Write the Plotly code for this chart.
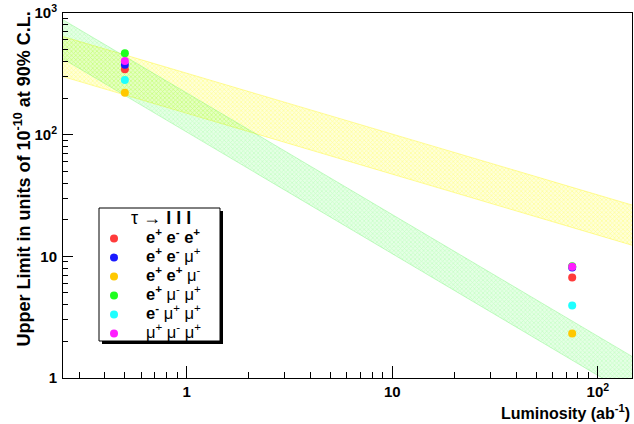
import plotly.graph_objects as go

# ---- data ----
channels = ["e+e-e+", "e+e-mu+", "e+e+mu-", "e+mu-mu+", "e-mu+mu+", "mu+mu-mu+"]
channel_labels = [
    "<b>e<sup>+</sup> e<sup>-</sup> e<sup>+</sup></b>",
    "<b>e<sup>+</sup> e<sup>-</sup></b> μ<sup>+</sup>",
    "<b>e<sup>+</sup> e<sup>+</sup></b> μ<sup>-</sup>",
    "<b>e<sup>+</sup></b> μ<sup>-</sup> μ<sup>+</sup>",
    "<b>e<sup>-</sup></b> μ<sup>+</sup> μ<sup>+</sup>",
    "μ<sup>+</sup> μ<sup>-</sup> μ<sup>+</sup>",
]
legend_title = "τ → <b>l l l</b>"
channel_colors = ["#ff3b3b", "#1a1aff", "#ffc800", "#1eff1e", "#1effff", "#ff1eff"]
lumi_points = [0.5, 75]
limit_now = [345, 376, 221, 467, 282, 403]        # at 0.5 ab^-1
limit_future = [6.7, 8.1, 2.32, 8.3, 3.94, 8.2]    # at 75 ab^-1

band_lumi = [0.25, 150]
yellow_upper = [640, 26.1]
yellow_lower = [300, 12.2]
green_upper = [880, 1.47]
green_lower = [420, 0.70]

x_tickvals = [1, 10, 100]
x_ticktext = ["1", "10", "10<sup>2</sup>"]
y_tickvals = [1, 10, 100, 1000]
y_ticktext = ["1", "10", "10<sup>2</sup>", "10<sup>3</sup>"]

FONT = "Liberation Sans, Arial, sans-serif"

# plot area in pixels (for placing the legend box / titles in paper units)
L, R, T, B = 63, 632, 13, 378
W, H = R - L, B - T
def px(x): return (x - L) / W
def py(y): return (B - y) / H

fig = go.Figure()

# bands (hatched, ROOT style)
fig.add_trace(go.Scatter(
    x=band_lumi + band_lumi[::-1], y=yellow_upper + yellow_lower[::-1],
    fill="toself", mode="lines", line=dict(color="rgba(255,245,40,0.55)", width=0.8),
    fillcolor="rgba(255,255,0,0.15)",
    fillpattern=dict(shape="x", size=3, solidity=0.4, fgcolor="rgba(255,255,0,0.6)",
                     bgcolor="rgba(255,255,0,0.15)"),
    showlegend=False, hoverinfo="skip"))
fig.add_trace(go.Scatter(
    x=band_lumi + band_lumi[::-1], y=green_upper + green_lower[::-1],
    fill="toself", mode="lines", line=dict(color="rgba(90,240,90,0.4)", width=0.8),
    fillcolor="rgba(0,255,0,0.1)",
    fillpattern=dict(shape="x", size=3, solidity=0.4, fgcolor="rgba(80,255,80,0.45)",
                     bgcolor="rgba(0,255,0,0.1)"),
    showlegend=False, hoverinfo="skip"))

for name, lab, col, a, b in zip(channels, channel_labels, channel_colors, limit_now, limit_future):
    fig.add_trace(go.Scatter(
        x=lumi_points, y=[a, b], mode="markers",
        name='<span style="font-size:16.5px">' + lab + '</span>',
        marker=dict(color=col, size=8, line=dict(width=0))))

# legend box with shadow
fig.add_shape(type="rect", xref="paper", yref="paper",
              x0=px(102), x1=px(223), y0=py(344), y1=py(211),
              fillcolor="black", line=dict(width=0), layer="above")
fig.add_shape(type="rect", xref="paper", yref="paper",
              x0=px(99), x1=px(220), y0=py(341), y1=py(208),
              fillcolor="white", line=dict(color="black", width=1), layer="above")
fig.add_annotation(
    text=legend_title, xref="paper", yref="paper", x=px(161), y=py(218),
    xanchor="center", yanchor="middle", showarrow=False,
    font=dict(family=FONT, size=18, color="black"))

fig.update_layout(
    width=634, height=424,
    margin=dict(l=L, r=634 - R, t=T, b=424 - B),
    paper_bgcolor="white", plot_bgcolor="white",
    font=dict(family=FONT, size=14, color="black"),
    legend=dict(
        x=px(82), y=py(224), xanchor="left", yanchor="top",
        bgcolor="rgba(0,0,0,0)", borderwidth=0,
        font=dict(family=FONT, size=12, color="black"),
        itemwidth=54, tracegroupgap=0,
    ),
)

fig.update_xaxes(
    type="log", range=[-0.602, 2.166],
    tickvals=x_tickvals, ticktext=x_ticktext,
    ticks="inside", ticklen=12, tickwidth=1, tickcolor="black",
    minor=dict(ticks="inside", ticklen=6, tickcolor="black", dtick="D1", showgrid=False),
    showgrid=False, zeroline=False,
    showline=True, linecolor="black", linewidth=1, mirror=True,
    tickfont=dict(family=FONT, size=15, color="black", weight="bold"),
)
fig.update_yaxes(
    type="log", range=[0, 3],
    tickvals=y_tickvals, ticktext=y_ticktext,
    ticks="inside", ticklen=10, tickwidth=1, tickcolor="black",
    minor=dict(ticks="inside", ticklen=5, tickcolor="black", dtick="D1", showgrid=False),
    showgrid=False, zeroline=False,
    showline=True, linecolor="black", linewidth=1, mirror=True,
    tickfont=dict(family=FONT, size=15, color="black", weight="bold"),
    ticklabelstandoff=2,
)

# axis titles
fig.add_annotation(
    text="<b>Luminosity (ab<sup>-1</sup>)</b>", xref="paper", yref="paper",
    x=1.0, y=py(400), xanchor="right", yanchor="top", showarrow=False,
    font=dict(family=FONT, size=16, color="black"))
fig.add_annotation(
    text="<b>Upper Limit in units of 10<sup>-10</sup> at 90% C.L.</b>",
    xref="paper", yref="paper", x=px(23), y=py(10), xanchor="center", yanchor="top",
    textangle=-90, showarrow=False,
    font=dict(family=FONT, size=18, color="black"))

fig.write_html("out.html", config={"displayModeBar": False},
               post_script="document.body.style.margin='0px';")
